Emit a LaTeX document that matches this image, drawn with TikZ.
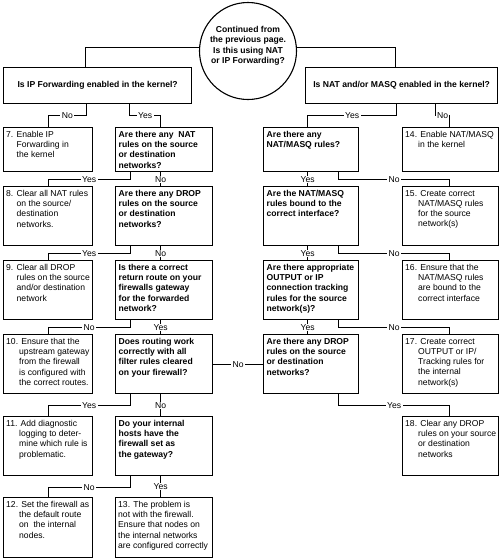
\documentclass[tikz,border=0pt]{standalone}
\usepackage{fontspec}
\setmainfont{Liberation Sans}
\newcommand\indA{\hspace*{10.5pt}}
\newcommand\indB{\hspace*{13pt}}
\tikzset{
  box/.style={draw, rectangle, line width=1.3pt, anchor=north west, inner sep=0pt},
  qtxt/.style={anchor=north west, align=left, inner xsep=3.5pt, inner ysep=4pt,
    font=\fontsize{8.6}{10.2}\selectfont\bfseries},
  atxt/.style={anchor=north west, align=left, inner xsep=3pt, inner ysep=4pt,
    font=\fontsize{8.6}{10.2}\selectfont},
  conn/.style={line width=0.9pt},
  lab/.style={fill=white, inner xsep=1.5pt, inner ysep=0.5pt,
    font=\fontsize{8.6}{10}\selectfont},
}
% name, x1, y1, x2, y2, text style, text
\newcommand\fbx[7]{%
  \pgfmathsetmacro\bw{#4-#2}\pgfmathsetmacro\bh{#5-#3}%
  \node[box, minimum width=\bw pt, minimum height=\bh pt,
    label={[#6]north west:{#7}}] (#1) at (#2,#3) {};}
\begin{document}
\begin{tikzpicture}[x=1pt, y=-1pt]
\useasboundingbox (0,0) rectangle (500,560);

% start circle
\node[draw, circle, line width=1.1pt, minimum size=97pt, inner sep=0pt, align=center,
  font=\fontsize{8.6}{10.2}\selectfont\bfseries] (c) at (248,51)
  {Continued from\\the previous page.\\Is this using NAT\\or IP Forwarding?\\[2pt]};

% top questions
\node[box, minimum width=188pt, minimum height=36pt,
  font=\fontsize{8.6}{10.2}\selectfont\bfseries] (A) at (3,67)
  {Is IP Forwarding enabled in the kernel?};
\node[box, minimum width=192pt, minimum height=36pt,
  font=\fontsize{8.6}{10.2}\selectfont\bfseries] (B) at (305,67)
  {Is NAT and/or MASQ enabled in the kernel?};

% left column answers
\fbx{b7}{3}{127}{92}{171}{atxt}{7. Enable IP\\\indA Forwarding in\\\indA the kernel}
\fbx{b8}{3}{186}{92}{245}{atxt}{8. Clear all NAT rules\\\indA on the source/\\\indA destination\\\indA networks.}
\fbx{b9}{3}{260}{92}{319}{atxt}{9. Clear all DROP\\\indA rules on the source\\\indA and/or destination\\\indA network}
\fbx{b10}{3}{334}{92}{393}{atxt}{10. Ensure that the\\\indB upstream gateway\\\indB from the firewall\\\indB is configured with\\\indB the correct routes.}
\fbx{b11}{3}{416}{92}{475}{atxt}{11. Add diagnostic\\\indB logging to deter-\\\indB mine which rule is\\\indB problematic.}
\fbx{b12}{3}{497}{92}{557}{atxt}{12. Set the firewall as\\\indB the default route\\\indB on~ the internal\\\indB nodes.}

% left column questions
\fbx{q1}{115}{127}{212}{171}{qtxt}{Are there any~ NAT\\rules on the source\\or destination\\networks?}
\fbx{q2}{115}{186}{212}{245}{qtxt}{Are there any DROP\\rules on the source\\or destination\\networks?}
\fbx{q3}{115}{260}{212}{319}{qtxt}{Is there a correct\\return route on your\\firewalls gateway\\for the forwarded\\network?}
\fbx{q4}{115}{334}{212}{393}{qtxt}{Does routing work\\correctly with all\\filter rules cleared\\on your firewall?}
\fbx{q5}{115}{416}{212}{475}{qtxt}{Do your internal\\hosts have the\\firewall set as\\the gateway?}
\fbx{b13}{115}{497}{212}{557}{atxt}{13. The problem is\\not with the firewall.\\Ensure that nodes on\\the internal networks\\are configured correctly}

% right column questions
\fbx{r1}{263}{127}{358}{171}{qtxt}{Are there any\\NAT/MASQ rules?}
\fbx{r2}{263}{186}{358}{245}{qtxt}{Are the NAT/MASQ\\rules bound to the\\correct interface?}
\fbx{r3}{263}{260}{358}{319}{qtxt}{Are there appropriate\\OUTPUT or IP\\connection tracking\\rules for the source\\network(s)?}
\fbx{r4}{263}{334}{358}{393}{qtxt}{Are there any DROP\\rules on the source\\or destination\\networks?}

% right column answers
\fbx{b14}{402}{127}{498}{171}{atxt}{14. Enable NAT/MASQ\\\indB in the kernel}
\fbx{b15}{402}{186}{498}{245}{atxt}{15. Create correct\\\indB NAT/MASQ rules\\\indB for the source\\\indB network(s)}
\fbx{b16}{402}{260}{498}{319}{atxt}{16. Ensure that the\\\indB NAT/MASQ rules\\\indB are bound to the\\\indB correct interface}
\fbx{b17}{402}{334}{498}{393}{atxt}{17. Create correct\\\indB OUTPUT or IP/\\\indB Tracking rules for\\\indB the internal\\\indB network(s)}
\fbx{b18}{402}{416}{498}{475}{atxt}{18. Clear any DROP\\\indB rules on your source\\\indB or destination\\\indB networks}

% circle to top questions
\draw[conn] (c.176) -| ([xshift=-12pt]A.north);
\draw[conn] (c.4) -| ([xshift=-6pt]B.north);

% left side connectors
\draw[conn] ([xshift=-11pt]A.south) -- ++(0,11) -| node[lab,pos=.25]{No} (b7.north);
\draw[conn] ([xshift=32pt]A.south) -- ++(0,11) -| node[lab,pos=.25]{Yes} ([xshift=-3.5pt]q1.north);
\draw[conn] ([xshift=-34pt]q1.south) -- ++(0,7) -| node[lab,pos=.25]{Yes} (b8.north);
\draw[conn] ([xshift=-3.5pt]q1.south) -- node[lab]{No} ([xshift=-3.5pt]q2.north);
\draw[conn] ([xshift=-34pt]q2.south) -- ++(0,7) -| node[lab,pos=.25]{Yes} (b9.north);
\draw[conn] ([xshift=-3.5pt]q2.south) -- node[lab]{No} ([xshift=-3.5pt]q3.north);
\draw[conn] ([xshift=-34pt]q3.south) -- ++(0,7) -| node[lab,pos=.25]{No} (b10.north);
\draw[conn] ([xshift=-3.5pt]q3.south) -- node[lab]{Yes} ([xshift=-3.5pt]q4.north);
\draw[conn] ([xshift=-34pt]q4.south) -- ++(0,11) -| node[lab,pos=.25]{Yes} (b11.north);
\draw[conn] ([xshift=-3.5pt]q4.south) -- node[lab]{No} ([xshift=-3.5pt]q5.north);
\draw[conn] ([xshift=-34pt]q5.south) -- ++(0,11) -| node[lab,pos=.25]{No} (b12.north);
\draw[conn] ([xshift=-3.5pt]q5.south) -- node[lab]{Yes} ([xshift=-3.5pt]b13.north);
\draw[conn] (q4.east) -- node[lab]{No} (r4.west);

% right side connectors
\draw[conn] ([xshift=-5pt]B.south) -- ++(0,11) -| node[lab,pos=.25]{Yes} ([xshift=-3.5pt]r1.north);
\draw[conn] ([xshift=34pt]B.south) -- ++(0,11) -| node[lab,pos=.25,inner xsep=0.8pt]{No} ([xshift=-1pt]b14.north);
\draw[conn] ([xshift=27.5pt]r1.south) -- ++(0,7) -| node[lab,pos=.25]{No} ([xshift=-1pt]b15.north);
\draw[conn] ([xshift=-3.5pt]r1.south) -- node[lab]{Yes} ([xshift=-3.5pt]r2.north);
\draw[conn] ([xshift=27.5pt]r2.south) -- ++(0,7) -| node[lab,pos=.25]{No} ([xshift=-1pt]b16.north);
\draw[conn] ([xshift=-3.5pt]r2.south) -- node[lab]{Yes} ([xshift=-3.5pt]r3.north);
\draw[conn] ([xshift=27.5pt]r3.south) -- ++(0,7) -| node[lab,pos=.25]{No} ([xshift=-1pt]b17.north);
\draw[conn] ([xshift=-3.5pt]r3.south) -- node[lab]{Yes} ([xshift=-3.5pt]r4.north);
\draw[conn] ([xshift=27.5pt]r4.south) -- ++(0,11) -| node[lab,pos=.25]{Yes} ([xshift=-1pt]b18.north);
\end{tikzpicture}
\end{document}
